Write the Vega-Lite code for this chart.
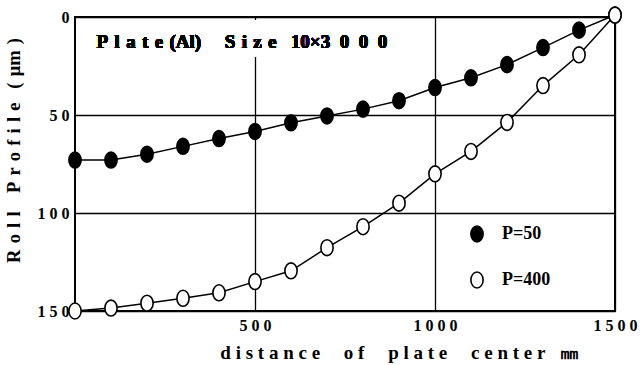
{
  "$schema": "https://vega.github.io/schema/vega-lite/v6.json",
  "autosize": {"type": "none"},
  "width": 540,
  "height": 294,
  "padding": {"left": 75, "top": 17, "right": 29, "bottom": 54},
  "background": "white",
  "config": {
    "view": {"stroke": "black", "strokeWidth": 2},
    "font": "Liberation Serif",
    "axis": {
      "labelFont": "Liberation Serif",
      "labelFontWeight": "bold",
      "labelFontSize": 16,
      "labelColor": "black",
      "titleFont": "Liberation Serif",
      "titleColor": "black",
      "titleFontWeight": "bold",
      "titleFontSize": 19,
      "grid": true,
      "gridColor": "black",
      "gridWidth": 1.3,
      "gridOpacity": 1,
      "ticks": false,
      "domain": false
    }
  },
  "data": {
    "values": [
      {"x": 0, "y": 73, "P": "P=50"},
      {"x": 100, "y": 73, "P": "P=50"},
      {"x": 200, "y": 70, "P": "P=50"},
      {"x": 300, "y": 66, "P": "P=50"},
      {"x": 400, "y": 62, "P": "P=50"},
      {"x": 500, "y": 58.4, "P": "P=50"},
      {"x": 600, "y": 54, "P": "P=50"},
      {"x": 700, "y": 50.5, "P": "P=50"},
      {"x": 800, "y": 47, "P": "P=50"},
      {"x": 900, "y": 42.7, "P": "P=50"},
      {"x": 1000, "y": 36, "P": "P=50"},
      {"x": 1100, "y": 31, "P": "P=50"},
      {"x": 1200, "y": 24.3, "P": "P=50"},
      {"x": 1300, "y": 15.6, "P": "P=50"},
      {"x": 1400, "y": 6.7, "P": "P=50"},
      {"x": 1500, "y": -1, "P": "P=50"},
      {"x": 0, "y": 150, "P": "P=400"},
      {"x": 100, "y": 148.5, "P": "P=400"},
      {"x": 200, "y": 146, "P": "P=400"},
      {"x": 300, "y": 143.5, "P": "P=400"},
      {"x": 400, "y": 140.7, "P": "P=400"},
      {"x": 500, "y": 135, "P": "P=400"},
      {"x": 600, "y": 129.5, "P": "P=400"},
      {"x": 700, "y": 117.7, "P": "P=400"},
      {"x": 800, "y": 107, "P": "P=400"},
      {"x": 900, "y": 95, "P": "P=400"},
      {"x": 1000, "y": 80, "P": "P=400"},
      {"x": 1100, "y": 68.6, "P": "P=400"},
      {"x": 1200, "y": 53.8, "P": "P=400"},
      {"x": 1300, "y": 35, "P": "P=400"},
      {"x": 1400, "y": 19.3, "P": "P=400"},
      {"x": 1500, "y": -1, "P": "P=400"}
    ]
  },
  "encoding": {
    "x": {
      "field": "x", "type": "quantitative",
      "scale": {"domain": [0, 1500], "nice": false, "zero": false},
      "axis": {
        "values": [500, 1000, 1500],
        "labelExpr": "datum.value == 500 ? '5 0 0' : datum.value == 1000 ? '1 0 0 0' : '1 5 0 0'",
        "labelFlush": false,
        "labelPadding": 6,
        "title": "d i s t a n c e\u2003 o f\u2002 \u2002p l a t e\u2002 \u2002c e n t e r\u2002 ㎜",
        "titleX": 324,
        "titleY": 47,
        "titleAlign": "center",
        "titleBaseline": "alphabetic"
      }
    },
    "y": {
      "field": "y", "type": "quantitative",
      "scale": {"domain": [0, 150], "reverse": true, "nice": false, "zero": false},
      "axis": {
        "values": [0, 50, 100, 150],
        "labelExpr": "datum.value == 0 ? '0' : datum.value == 50 ? '5 0' : datum.value == 100 ? '1 0 0' : '1 5 0'",
        "labelPadding": 6,
        "title": "R\u2004o\u2004l\u2004l\u2002\u2002P\u2004r\u2004o\u2004f\u2004i\u2004l\u2004e\u2002 (\u2004μm\u2004)",
        "titleFontSize": 18.5,
        "titleX": -52,
        "titleY": 133,
        "titleAlign": "center"
      }
    }
  },
  "layer": [
    {
      "mark": {"type": "line", "color": "black", "strokeWidth": 1.5},
      "encoding": {"detail": {"field": "P"}}
    },
    {
      "mark": {"type": "point", "shape": "M1,0A1,1.3,0,1,1,-1,0A1,1.3,0,1,1,1,0Z", "size": 150, "stroke": "black", "strokeWidth": 1.6, "filled": false, "opacity": 1},
      "encoding": {
        "fill": {
          "field": "P", "type": "nominal",
          "scale": {"domain": ["P=50", "P=400"], "range": ["black", "white"]},
          "legend": {
            "title": null,
            "orient": "none",
            "legendX": 393,
            "legendY": 208,
            "padding": 0,
            "symbolType": "M1,0A1,1.3,0,1,1,-1,0A1,1.3,0,1,1,1,0Z",
            "symbolSize": 150,
            "symbolStrokeColor": "black",
            "symbolStrokeWidth": 1.6,
            "labelFont": "Liberation Serif",
            "labelFontSize": 18,
            "labelFontWeight": "bold",
            "labelColor": "black",
            "labelOffset": 16,
            "rowPadding": 22
          }
        }
      }
    },
    {
      "mark": {"type": "rect", "fill": "white"},
      "encoding": {
        "x": {"datum": 25},
        "x2": {"datum": 840},
        "y": {"datum": 1.5},
        "y2": {"datum": 20}
      }
    },
    {
      "mark": {"type": "text", "text": "P\u2004l\u2004a\u2004t\u2004e\u2004(Al)\u2003 S\u2004i\u2004z\u2004e\u2002 10×3\u20020\u20020\u20020", "font": "Liberation Serif", "fontSize": 19, "fontWeight": "bold", "align": "left", "baseline": "middle", "color": "black"},
      "encoding": {
        "x": {"datum": 60},
        "y": {"datum": 12.5}
      }
    }
  ]
}
